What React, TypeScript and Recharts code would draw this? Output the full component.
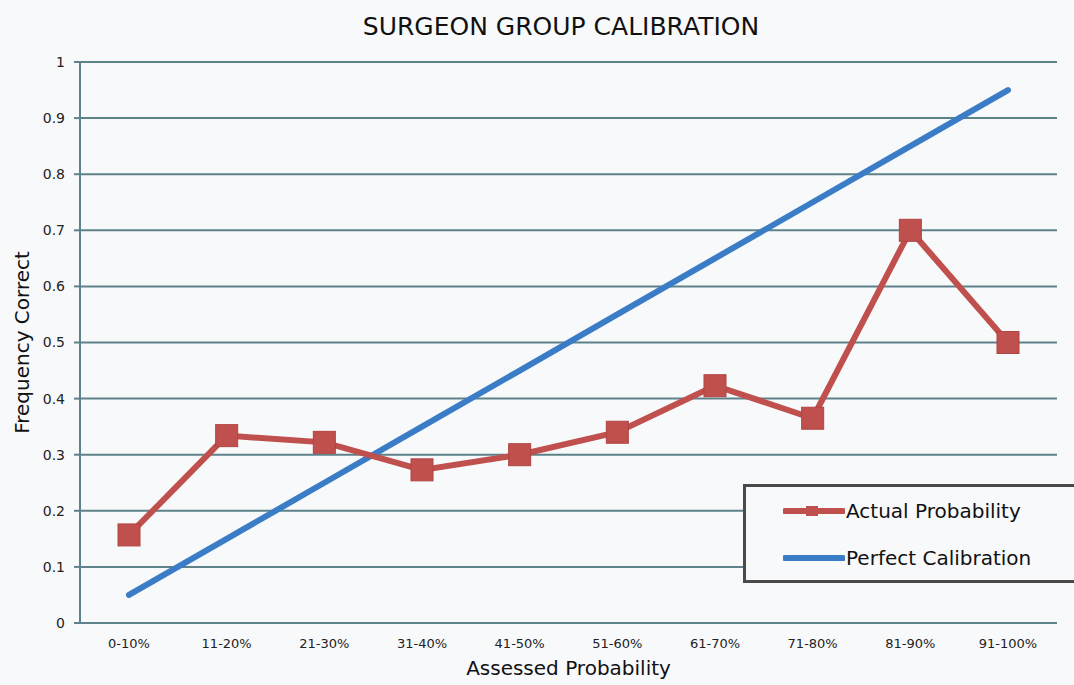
import React from 'react';
import { LineChart, Line, XAxis, YAxis, CartesianGrid, Legend } from 'recharts';

const categories = ['0-10%', '11-20%', '21-30%', '31-40%', '41-50%', '51-60%', '61-70%', '71-80%', '81-90%', '91-100%'];
const actualProbability = [0.157, 0.334, 0.322, 0.273, 0.3, 0.34, 0.423, 0.365, 0.7, 0.5];
const perfectCalibration = [0.05, 0.15, 0.25, 0.35, 0.45, 0.55, 0.65, 0.75, 0.85, 0.95];
const yTicks = [0, 0.1, 0.2, 0.3, 0.4, 0.5, 0.6, 0.7, 0.8, 0.9, 1];

const data = categories.map((name, i) => ({
  name,
  actual: actualProbability[i],
  perfect: perfectCalibration[i],
}));

const FONT = '"DejaVu Sans", sans-serif';
const GRID = '#5d8289';
const RED = '#c0504d';
const BLUE = '#3a7cc6';
const BG = '#f8f9fb';

const SquareDot = (props: any) => {
  const { cx, cy, index } = props;
  if (cx == null || cy == null) return null;
  return <rect key={`sq-${index}`} x={cx - 11} y={cy - 11} width={22} height={22} fill={RED} stroke="#b04440" strokeWidth={1} />;
};

const LegendBox = () => (
  <div
    style={{
      width: 340,
      height: 93,
      border: '3px solid #4a4a4a',
      borderRight: 'none',
      background: BG,
      fontFamily: FONT,
      fontSize: 20,
      color: '#111',
      boxSizing: 'content-box',
    }}
  >
    <div style={{ display: 'flex', alignItems: 'center', height: 47, paddingLeft: 37 }}>
      <svg width={62} height={20}>
        <line x1={2} y1={10} x2={60} y2={10} stroke={RED} strokeWidth={6} strokeLinecap="round" />
        <rect x={23} y={5} width={12} height={10} fill={RED} />
      </svg>
      <span style={{ marginLeft: 1 }}>Actual Probability</span>
    </div>
    <div style={{ display: 'flex', alignItems: 'center', height: 47, paddingLeft: 37 }}>
      <svg width={62} height={20}>
        <line x1={2} y1={10} x2={60} y2={10} stroke={BLUE} strokeWidth={6} strokeLinecap="round" />
      </svg>
      <span style={{ marginLeft: 1 }}>Perfect Calibration</span>
    </div>
  </div>
);

export default function App() {
  return (
    <div style={{ position: 'absolute', left: 0, top: 0, width: 1074, height: 685, background: BG, overflow: 'hidden' }}>
      <div
        style={{
          position: 'absolute',
          top: 12,
          left: 0,
          width: 1122,
          textAlign: 'center',
          fontFamily: FONT,
          fontSize: 25,
          color: '#111',
        }}
      >
        SURGEON GROUP CALIBRATION
      </div>
      <LineChart width={1074} height={685} data={data} margin={{ top: 62, right: 17, bottom: 22, left: 0 }}>
        <CartesianGrid horizontal vertical={false} stroke={GRID} strokeWidth={2} />
        <XAxis
          dataKey="name"
          height={40}
          padding={{ left: 49, right: 49 }}
          axisLine={{ stroke: GRID, strokeWidth: 2 }}
          tickLine={false}
          tickMargin={10}
          tick={{ fontFamily: FONT, fontSize: 13, fill: '#222' }}
          interval={0}
          label={{ value: 'Assessed Probability', position: 'bottom', offset: -2, style: { fontFamily: FONT, fontSize: 20, fill: '#111' } }}
        />
        <YAxis
          width={80}
          domain={[0, 1]}
          ticks={yTicks}
          interval={0}
          axisLine={{ stroke: GRID, strokeWidth: 2 }}
          tickLine={{ stroke: GRID, strokeWidth: 2 }}
          tickSize={6}
          tickMargin={9}
          tick={{ fontFamily: FONT, fontSize: 14, fill: '#222' }}
          label={{
            value: 'Frequency Correct',
            angle: -90,
            position: 'insideLeft',
            offset: 22,
            style: { fontFamily: FONT, fontSize: 20, fill: '#111', textAnchor: 'middle' },
          }}
        />
        <Legend
          layout="vertical"
          align="center"
          verticalAlign="middle"
          content={() => <LegendBox />}
          wrapperStyle={{ left: 743, top: 484, width: 343, height: 99 }}
        />
        <Line
          name="Perfect Calibration"
          dataKey="perfect"
          stroke={BLUE}
          strokeWidth={6}
          strokeLinecap="round"
          dot={false}
          activeDot={false}
          isAnimationActive={false}
        />
        <Line
          name="Actual Probability"
          dataKey="actual"
          stroke={RED}
          strokeWidth={6}
          dot={SquareDot}
          activeDot={false}
          isAnimationActive={false}
        />
      </LineChart>
    </div>
  );
}
